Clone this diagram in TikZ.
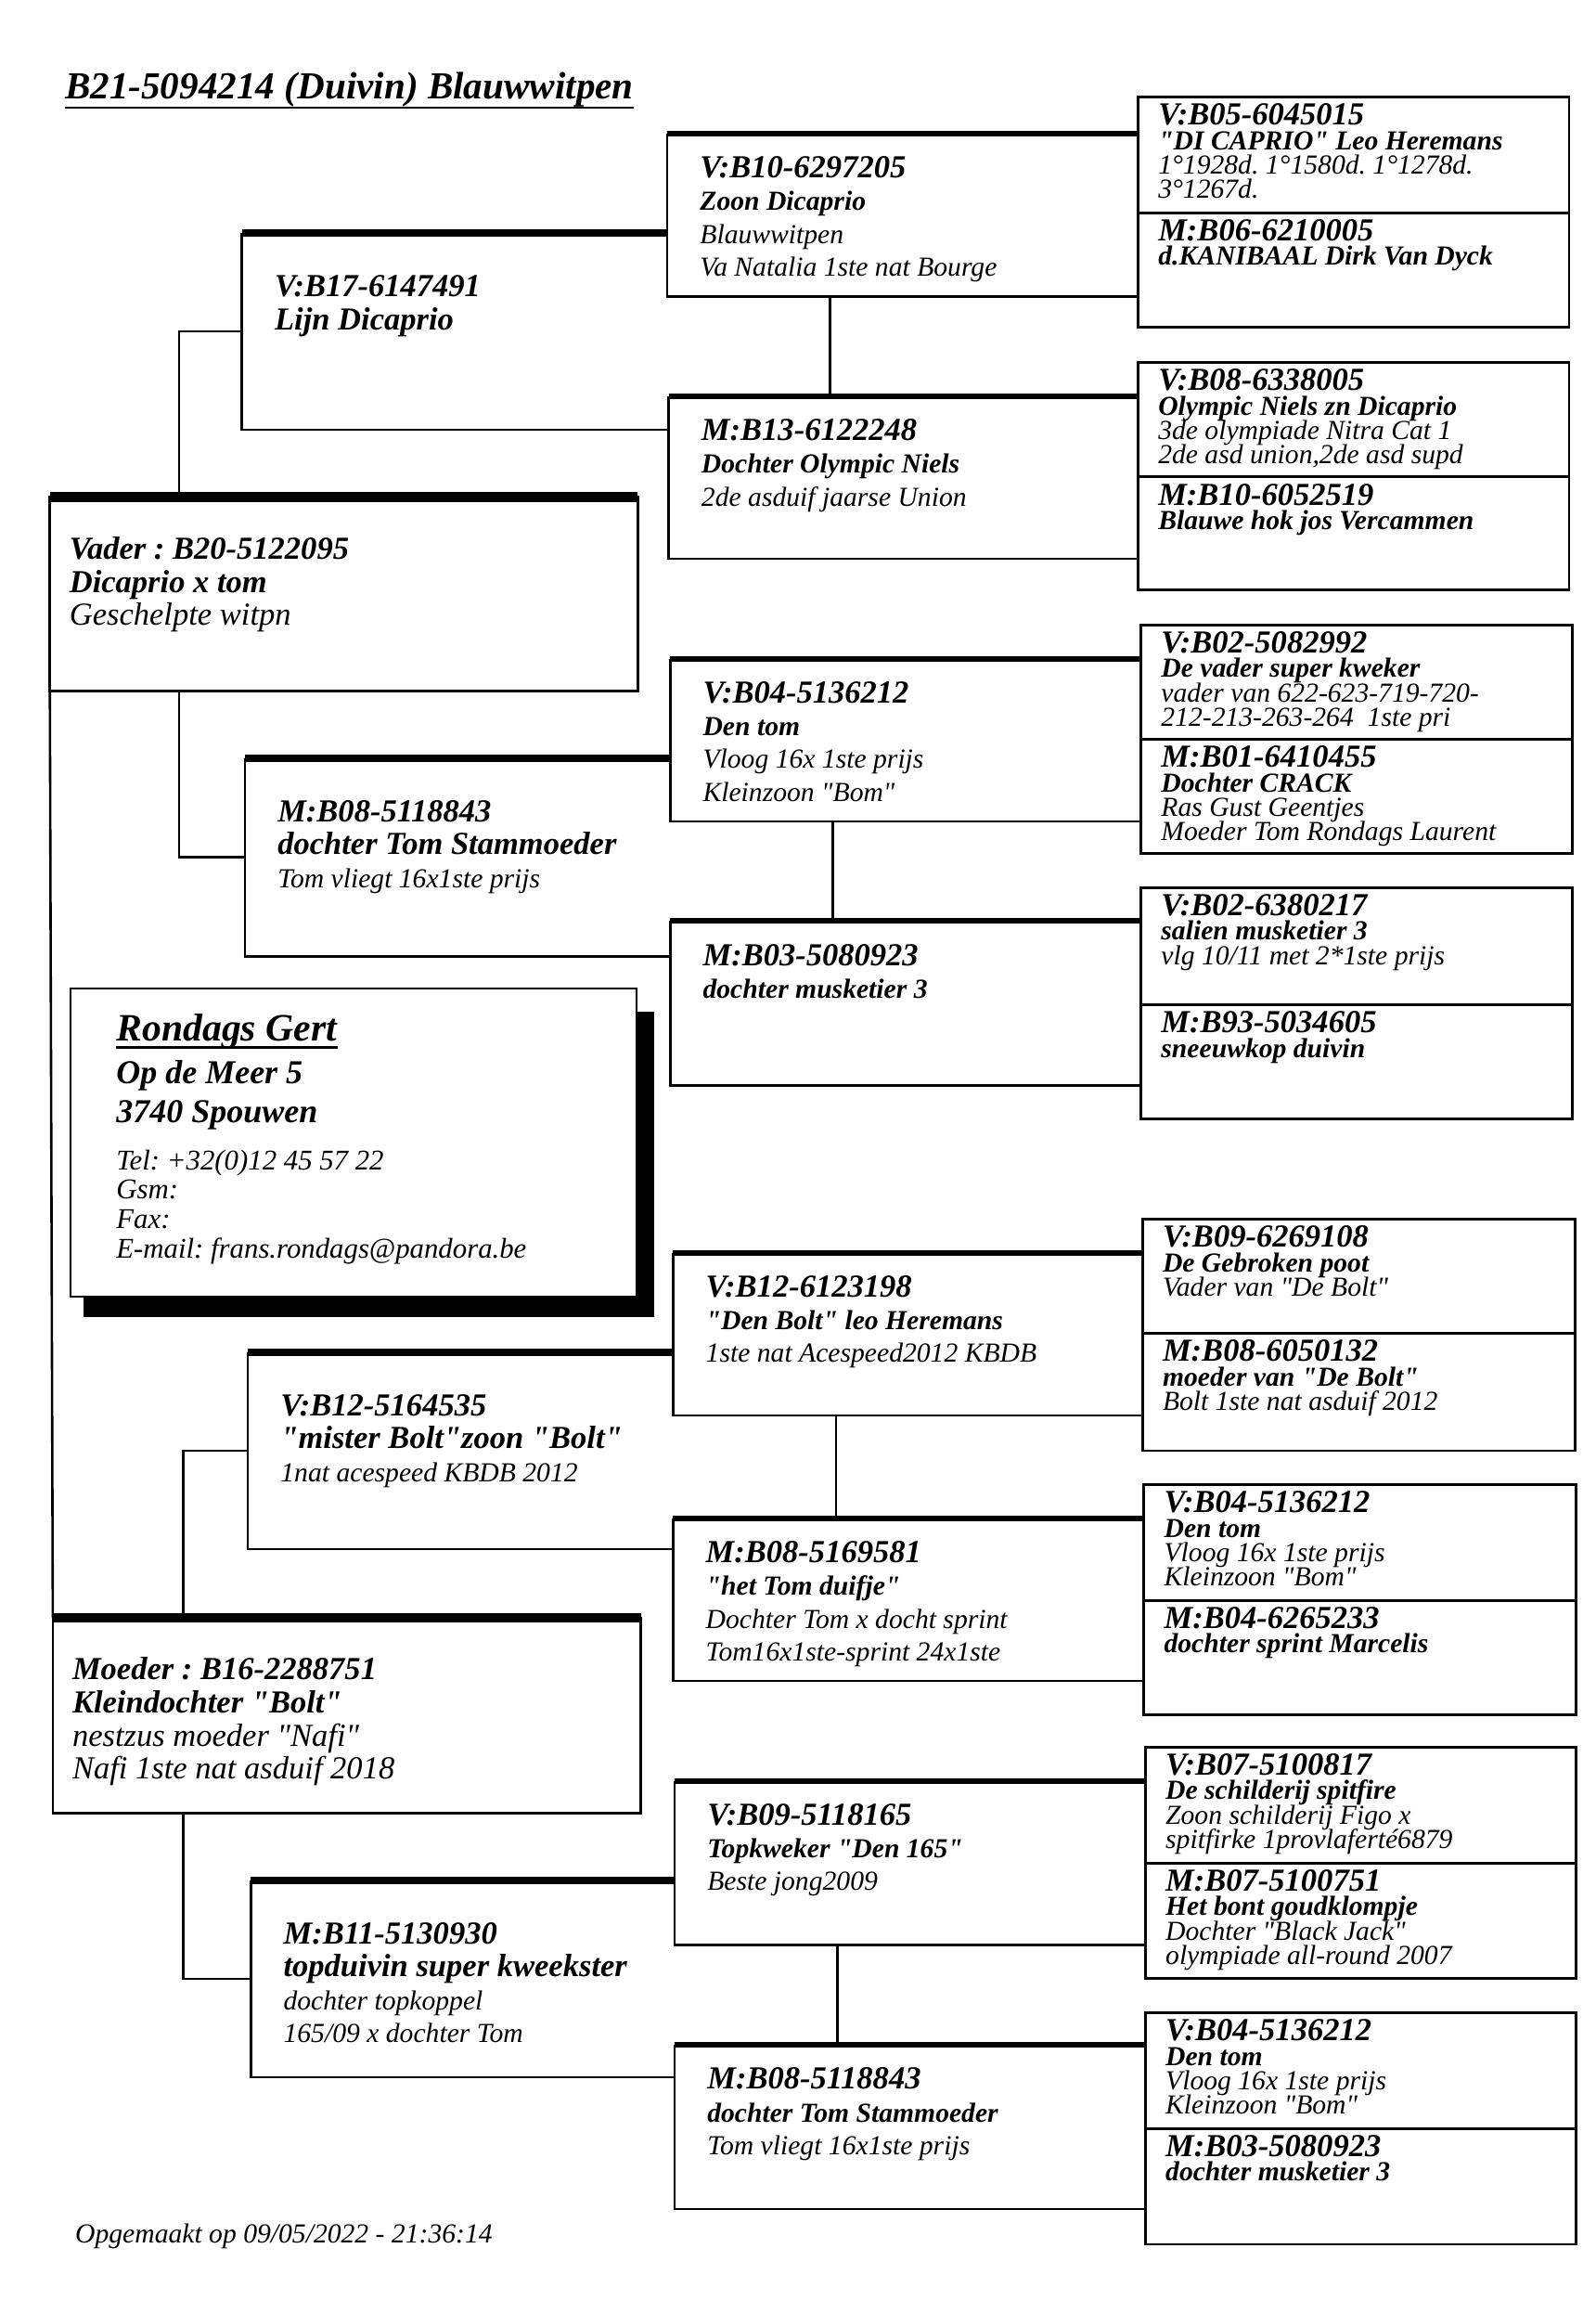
\documentclass[tikz,border=0pt]{standalone}
\usepackage{fontspec}
\setmainfont{Liberation Serif}
\newfontfamily\pedfont{Liberation Serif}
\usetikzlibrary{fit}
\frenchspacing
\newcommand\ringno[1]{{\fontsize{12}{12}\selectfont\bfseries\rule{0pt}{9pt}#1}}
\newcommand\pname[1]{{\bfseries #1}}
\begin{document}
\begin{tikzpicture}[x=0.0193015cm, y=-0.0193015cm,
    edge/.style={line width=0.9pt},
    frame/.style={inner sep=0pt, outer sep=0pt},
    quarter/.style={frame, draw, line width=1pt},
    top1/.style={line width=3.7pt}, top2/.style={line width=2.9pt}, top3/.style={line width=2.1pt},
    g1txt/.style={anchor=north west, align=left, inner sep=0pt, font={\pedfont\fontsize{12}{12.4}\selectfont\itshape}},
    g2txt/.style={anchor=north west, align=left, inner sep=0pt, font={\pedfont\fontsize{10.3}{12.3}\selectfont\itshape}},
    g3txt/.style={anchor=north west, align=left, inner sep=0pt, font={\pedfont\fontsize{10.3}{12.25}\selectfont\itshape}},
    g4txt/.style={anchor=north west, align=left, inner sep=0pt, font={\pedfont\fontsize{10.3}{9.15}\selectfont\itshape\lineskiplimit=-\maxdimen}}]
  \useasboundingbox (0,0) rectangle (1088,1568);
  % title
  \node[anchor=base west, inner sep=0pt, font={\pedfont\fontsize{14.3}{14.3}\selectfont\bfseries\itshape}] (title) at (44,67.5) {B21-5094214 (Duivin) Blauwwitpen};
  \draw[edge] ([yshift=-3.2pt]title.base west) -- ([yshift=-3.2pt]title.base east);
  % parents
  \node[frame, draw, line width=0.9pt, fit={(34,339) (435,471)}] (v) {};
  \node[frame, draw, line width=0.9pt, fit={(36,1103) (437,1236)}] (m) {};
  \draw[top1] (v.north west) -- (v.north east);
  \draw[top1] (m.north west) -- (m.north east);
  \draw[edge] (v.south west) -- (m.north west);
  \node[g1txt] (t-v) at ([shift={(13,25.5)}]v.north west) {\ringno{Vader : B20-5122095}\\\pname{Dicaprio x tom}\\Geschelpte witpn};
  \node[g1txt] (t-m) at ([shift={(13,25.5)}]m.north west) {\ringno{Moeder : B16-2288751}\\\pname{Kleindochter "Bolt"}\\nestzus moeder "Nafi"\\Nafi 1ste nat asduif 2018};
  % grandparents
  \node[frame, fit={(165,159) (455,293)}] (vv) {};
  \node[frame, fit={(167,517) (457,652)}] (vm) {};
  \node[frame, fit={(169,922) (459,1056)}] (mv) {};
  \node[frame, fit={(171,1282) (460,1416)}] (mm) {};
  \foreach \n in {vv,vm,mv,mm} {
    \draw[edge] (\n.north west) |- (\n.south east);
    \draw[top2] (\n.north west) -- (\n.north east);
  }
  \coordinate (vx) at (122,0);
  \coordinate (mx) at (125,0);
  \draw[edge] (vx |- v.north) |- (vv.west);
  \draw[edge] (vx |- v.south) |- (vm.west);
  \draw[edge] (mx |- m.north) |- (mv.west);
  \draw[edge] (mx |- m.south) |- (mm.west);
  \node[g2txt] (t-vv) at ([shift={(22,26.5)}]vv.north west) {\ringno{V:B17-6147491}\\\ringno{Lijn Dicaprio}};
  \node[g2txt] (t-vm) at ([shift={(22,26.5)}]vm.north west) {\ringno{M:B08-5118843}\\\ringno{dochter Tom Stammoeder}\\Tom vliegt 16x1ste prijs};
  \node[g2txt] (t-mv) at ([shift={(22,26.5)}]mv.north west) {\ringno{V:B12-5164535}\\\ringno{"mister Bolt"zoon "Bolt"}\\1nat acespeed KBDB 2012};
  \node[g2txt] (t-mm) at ([shift={(22,26.5)}]mm.north west) {\ringno{M:B11-5130930}\\\ringno{topduivin super kweekster}\\dochter topkoppel\\165/09 x dochter Tom};
  % great-grandparents
  \node[frame, fit={(455,91) (776,202)}] (vvv) {};
  \node[frame, fit={(456,270) (776,381)}] (vvm) {};
  \node[frame, fit={(457,449) (778,560)}] (vmv) {};
  \node[frame, fit={(457,628) (778,740)}] (vmm) {};
  \node[frame, fit={(459,854) (779,965)}] (mvv) {};
  \node[frame, fit={(459,1035) (780,1146)}] (mvm) {};
  \node[frame, fit={(460,1214) (781,1326)}] (mmv) {};
  \node[frame, fit={(460,1394) (781,1506)}] (mmm) {};
  \foreach \n in {vvv,vvm,vmv,vmm,mvv,mvm,mmv,mmm} {
    \draw[edge] (\n.north west) |- (\n.south east);
    \draw[top3] (\n.north west) -- (\n.north east);
  }
  \foreach \a/\b in {vvv/vvm,vmv/vmm,mvv/mvm,mmv/mmm}
    \draw[edge] ([shift={(111,0)}]\a.south west) coordinate (k) -- (k |- \b.north);
  \node[g3txt] (t-vvv) at ([shift={(22,13.5)}]vvv.north west) {\ringno{V:B10-6297205}\\\pname{Zoon Dicaprio}\\Blauwwitpen\\Va Natalia 1ste nat Bourge};
  \node[g3txt] (t-vvm) at ([shift={(22,13.5)}]vvm.north west) {\ringno{M:B13-6122248}\\\pname{Dochter Olympic Niels}\\2de asduif jaarse Union};
  \node[g3txt] (t-vmv) at ([shift={(22,13.5)}]vmv.north west) {\ringno{V:B04-5136212}\\\pname{Den tom}\\Vloog 16x 1ste prijs\\Kleinzoon "Bom"};
  \node[g3txt] (t-vmm) at ([shift={(22,13.5)}]vmm.north west) {\ringno{M:B03-5080923}\\\pname{dochter musketier 3}};
  \node[g3txt] (t-mvv) at ([shift={(22,13.5)}]mvv.north west) {\ringno{V:B12-6123198}\\\pname{"Den Bolt" leo Heremans}\\1ste nat Acespeed2012 KBDB};
  \node[g3txt] (t-mvm) at ([shift={(22,13.5)}]mvm.north west) {\ringno{M:B08-5169581}\\\pname{"het Tom duifje"}\\Dochter Tom x docht sprint\\Tom16x1ste-sprint 24x1ste};
  \node[g3txt] (t-mmv) at ([shift={(22,13.5)}]mmv.north west) {\ringno{V:B09-5118165}\\\pname{Topkweker "Den 165"}\\Beste jong2009};
  \node[g3txt] (t-mmm) at ([shift={(22,13.5)}]mmm.north west) {\ringno{M:B08-5118843}\\\pname{dochter Tom Stammoeder}\\Tom vliegt 16x1ste prijs};
  % great-great-grandparents
  \node[quarter, fit={(776,66) (1070,145)}] (vvvv) {};
  \node[quarter, fit={(776,145) (1070,223)}] (vvvm) {};
  \node[quarter, fit={(776,247) (1070,325)}] (vvmv) {};
  \node[quarter, fit={(776,325) (1070,402)}] (vvmm) {};
  \node[quarter, fit={(778,426) (1072,504)}] (vmvv) {};
  \node[quarter, fit={(778,504) (1072,582)}] (vmvm) {};
  \node[quarter, fit={(778,605) (1072,685)}] (vmmv) {};
  \node[quarter, fit={(778,685) (1072,763)}] (vmmm) {};
  \node[quarter, fit={(779,831) (1074,909)}] (mvvv) {};
  \node[quarter, fit={(779,909) (1074,989)}] (mvvm) {};
  \node[quarter, fit={(780,1012) (1075,1091)}] (mvmv) {};
  \node[quarter, fit={(780,1091) (1075,1169)}] (mvmm) {};
  \node[quarter, fit={(781,1191) (1075,1270)}] (mmvv) {};
  \node[quarter, fit={(781,1270) (1075,1349)}] (mmvm) {};
  \node[quarter, fit={(781,1372) (1075,1451)}] (mmmv) {};
  \node[quarter, fit={(781,1451) (1075,1530)}] (mmmm) {};
  \node[g4txt] (t-vvvv) at ([shift={(13.5,2.5)}]vvvv.north west) {\ringno{V:B05-6045015}\\\pname{"DI CAPRIO" Leo Heremans}\\1°1928d. 1°1580d. 1°1278d.\\3°1267d.};
  \node[g4txt] (t-vvvm) at ([shift={(13.5,2.5)}]vvvm.north west) {\ringno{M:B06-6210005}\\\pname{d.KANIBAAL Dirk Van Dyck}};
  \node[g4txt] (t-vvmv) at ([shift={(13.5,2.5)}]vvmv.north west) {\ringno{V:B08-6338005}\\\pname{Olympic Niels zn Dicaprio}\\3de olympiade Nitra Cat 1\\2de asd union,2de asd supd};
  \node[g4txt] (t-vvmm) at ([shift={(13.5,2.5)}]vvmm.north west) {\ringno{M:B10-6052519}\\\pname{Blauwe hok jos Vercammen}};
  \node[g4txt] (t-vmvv) at ([shift={(13.5,2.5)}]vmvv.north west) {\ringno{V:B02-5082992}\\\pname{De vader super kweker}\\vader van 622-623-719-720-\\212-213-263-264~~1ste pri};
  \node[g4txt] (t-vmvm) at ([shift={(13.5,2.5)}]vmvm.north west) {\ringno{M:B01-6410455}\\\pname{Dochter CRACK}\\Ras Gust Geentjes\\Moeder Tom Rondags Laurent};
  \node[g4txt] (t-vmmv) at ([shift={(13.5,2.5)}]vmmv.north west) {\ringno{V:B02-6380217}\\\pname{salien musketier 3}\\vlg 10/11 met 2*1ste prijs};
  \node[g4txt] (t-vmmm) at ([shift={(13.5,2.5)}]vmmm.north west) {\ringno{M:B93-5034605}\\\pname{sneeuwkop duivin}};
  \node[g4txt] (t-mvvv) at ([shift={(13.5,2.5)}]mvvv.north west) {\ringno{V:B09-6269108}\\\pname{De Gebroken poot}\\Vader van "De Bolt"};
  \node[g4txt] (t-mvvm) at ([shift={(13.5,2.5)}]mvvm.north west) {\ringno{M:B08-6050132}\\\pname{moeder van "De Bolt"}\\Bolt 1ste nat asduif 2012};
  \node[g4txt] (t-mvmv) at ([shift={(13.5,2.5)}]mvmv.north west) {\ringno{V:B04-5136212}\\\pname{Den tom}\\Vloog 16x 1ste prijs\\Kleinzoon "Bom"};
  \node[g4txt] (t-mvmm) at ([shift={(13.5,2.5)}]mvmm.north west) {\ringno{M:B04-6265233}\\\pname{dochter sprint Marcelis}};
  \node[g4txt] (t-mmvv) at ([shift={(13.5,2.5)}]mmvv.north west) {\ringno{V:B07-5100817}\\\pname{De schilderij spitfire}\\Zoon schilderij Figo x\\spitfirke 1provlaferté6879};
  \node[g4txt] (t-mmvm) at ([shift={(13.5,2.5)}]mmvm.north west) {\ringno{M:B07-5100751}\\\pname{Het bont goudklompje}\\Dochter "Black Jack"\\olympiade all-round 2007};
  \node[g4txt] (t-mmmv) at ([shift={(13.5,2.5)}]mmmv.north west) {\ringno{V:B04-5136212}\\\pname{Den tom}\\Vloog 16x 1ste prijs\\Kleinzoon "Bom"};
  \node[g4txt] (t-mmmm) at ([shift={(13.5,2.5)}]mmmm.north west) {\ringno{M:B03-5080923}\\\pname{dochter musketier 3}};
  % breeder card
  \node[frame, fit={(48,674) (434,884)}] (contact) {};
  \fill ([shift={(9,16)}]contact.north west) rectangle ([shift={(12,14)}]contact.south east);
  \draw[edge, fill=white] (contact.north west) rectangle (contact.south east);
  \node[anchor=base west, inner sep=0pt, font={\pedfont\fontsize{14.5}{14.5}\selectfont\bfseries\itshape}] (owner) at ([shift={(31,35.5)}]contact.north west) {Rondags Gert};
  \draw[edge] ([yshift=-2.5pt]owner.base west) -- ([yshift=-2.5pt]owner.base east);
  \node[anchor=north west, align=left, inner sep=0pt, font={\pedfont\fontsize{10.7}{11}\selectfont\itshape}] (address) at ([shift={(0,11.7)}]owner.base west) {{\fontsize{12.5}{12.5}\selectfont\bfseries\rule{0pt}{9.5pt}Op de Meer 5}\\[3.5pt]{\fontsize{12.5}{12.5}\selectfont\bfseries 3740 Spouwen}\\[6.6pt]Tel: +32(0)12 45 57 22\\Gsm:\\Fax:\\E-mail: frans.rondags@pandora.be};
  % footer
  \node[anchor=base west, inner sep=0pt, font={\pedfont\fontsize{10.3}{10.3}\selectfont\itshape}] (made) at (51,1529) {Opgemaakt op 09/05/2022 - 21:36:14};
\end{tikzpicture}
\end{document}
